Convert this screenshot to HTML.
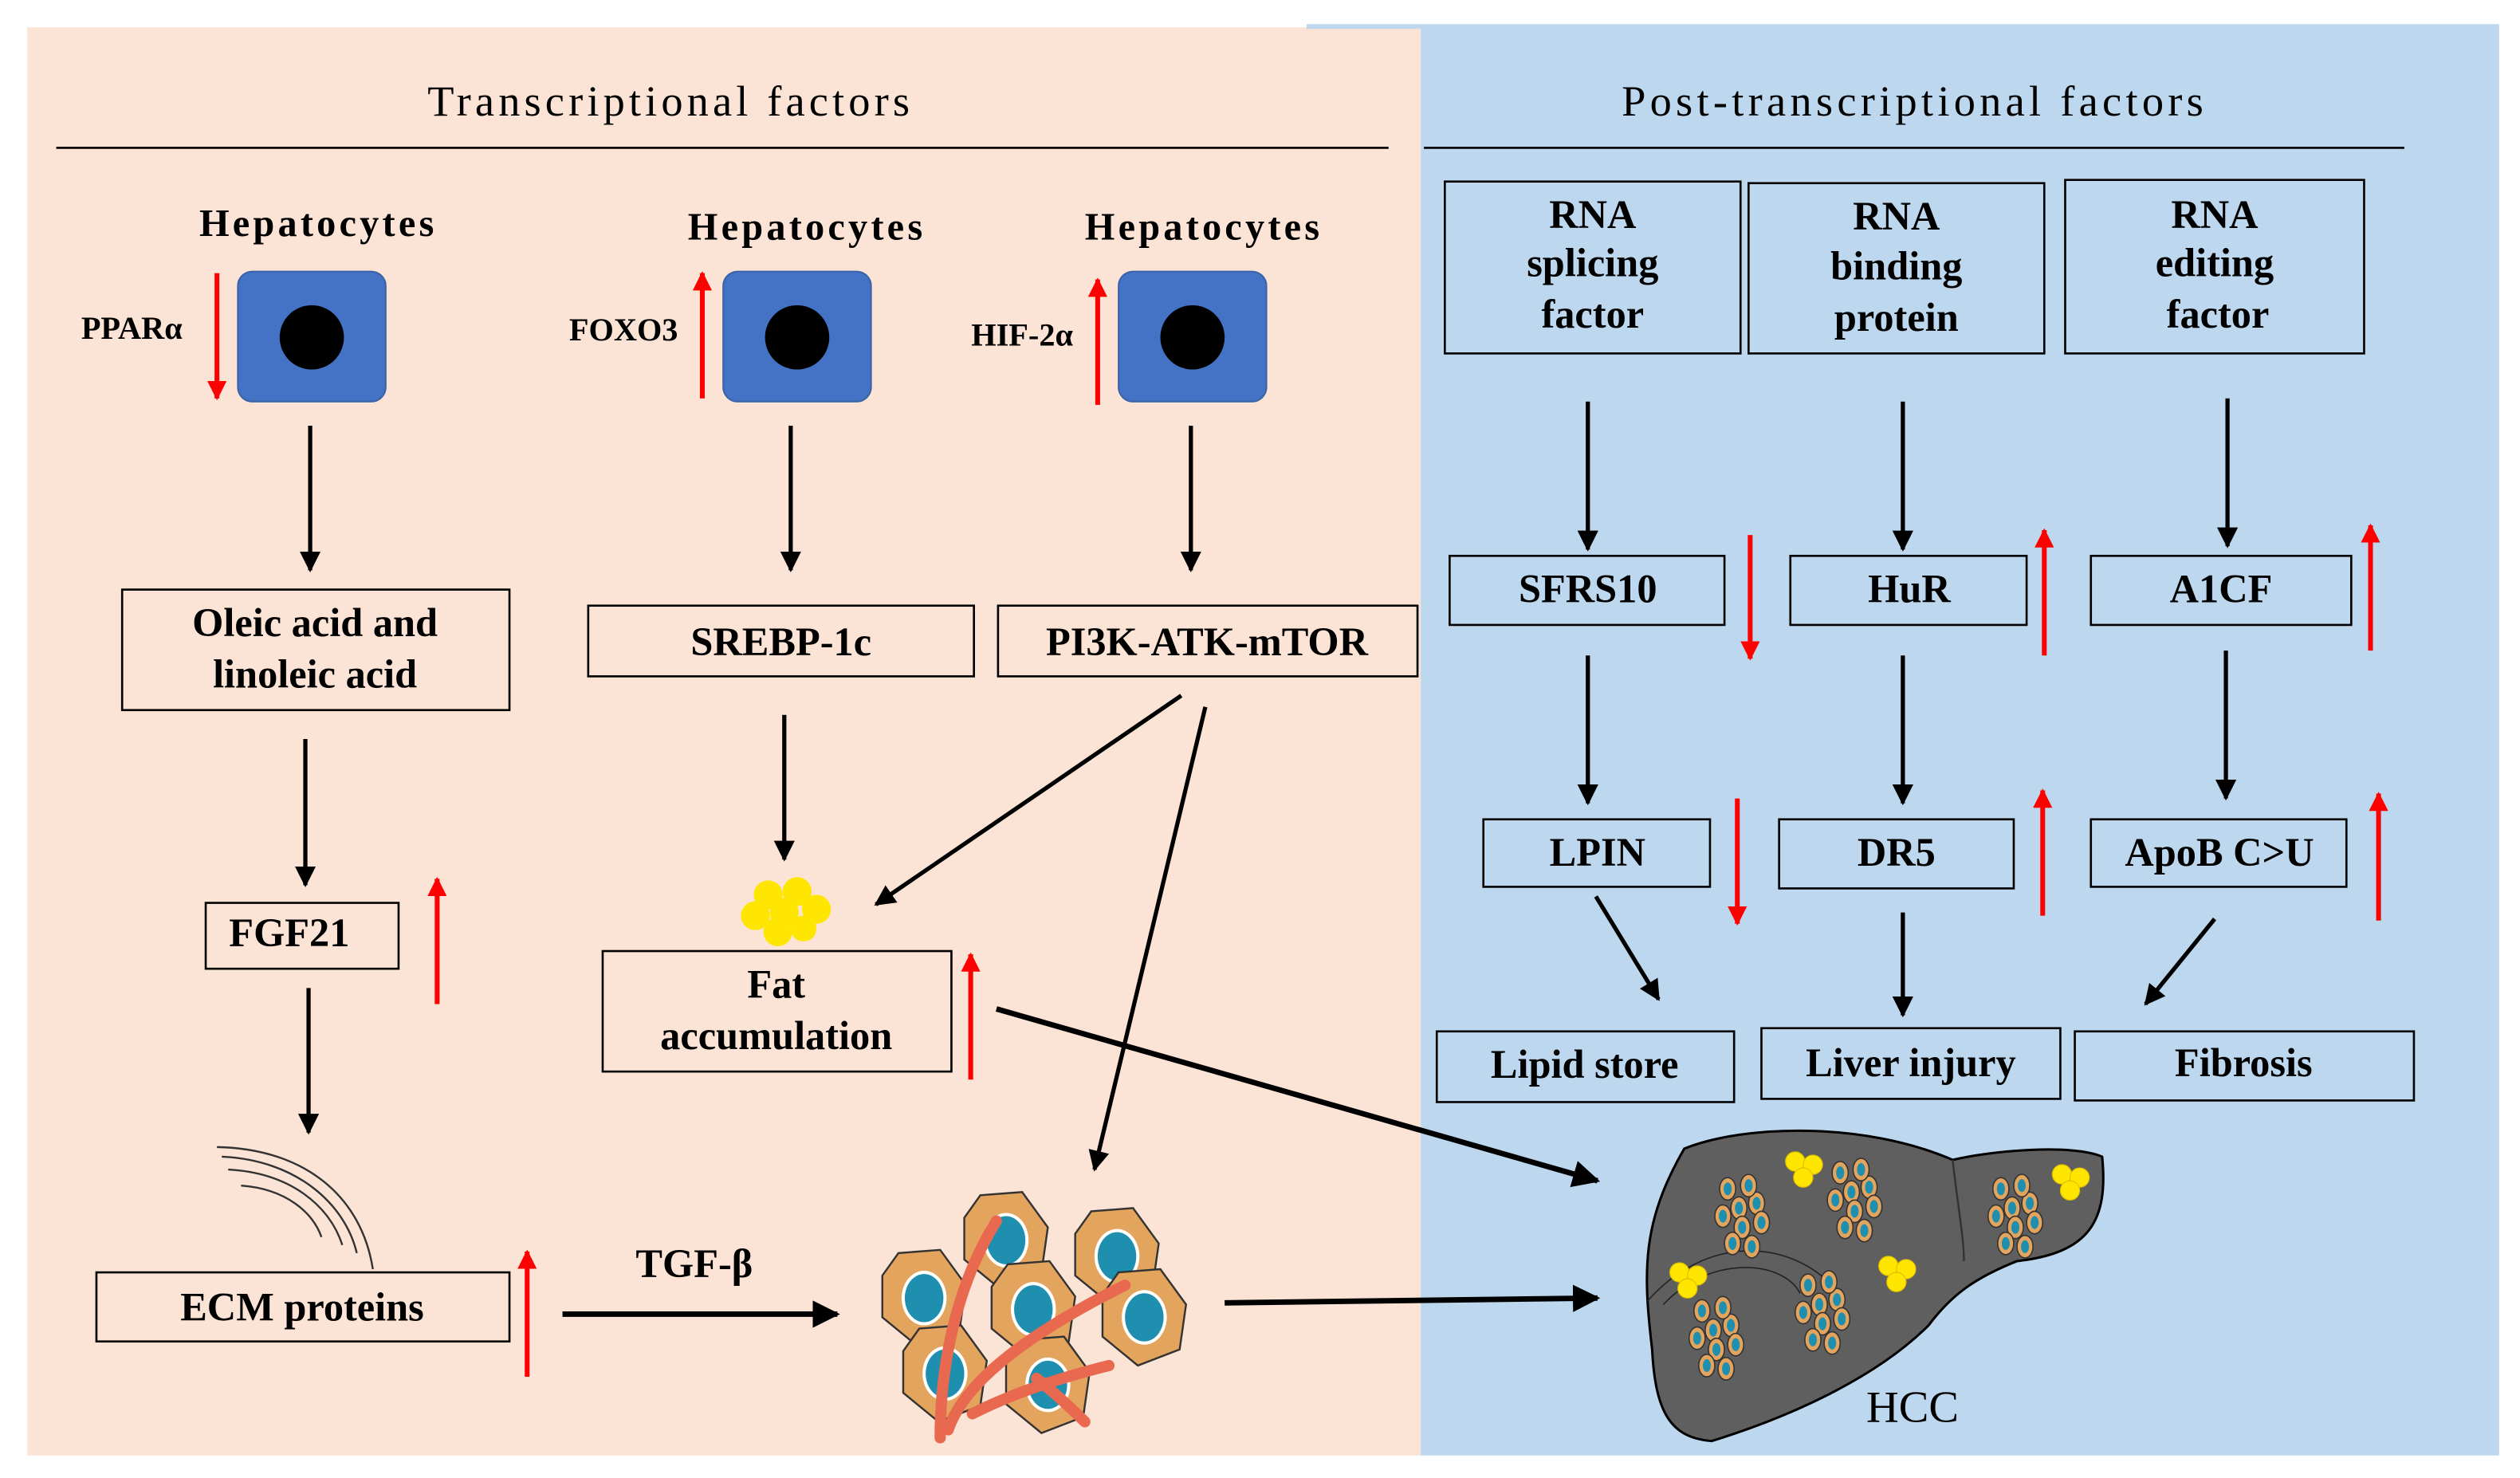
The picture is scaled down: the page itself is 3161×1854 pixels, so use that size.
<!DOCTYPE html>
<html><head><meta charset="utf-8"><style>
html,body{margin:0;padding:0;background:#fff;}
svg{display:block;}
text{font-family:"Liberation Serif",serif;font-weight:bold;fill:#000;}
</style></head><body>
<svg width="3161" height="1854" viewBox="0 0 1568 920" preserveAspectRatio="none" xmlns="http://www.w3.org/2000/svg">
<defs>
<marker id="ah" viewBox="0 0 10 10" refX="9" refY="5" markerWidth="5" markerHeight="5" orient="auto"><path d="M0,0L10,5L0,10z" fill="#000"/></marker>
<marker id="rh" viewBox="0 0 10 10" refX="9" refY="5" markerWidth="4" markerHeight="4" orient="auto"><path d="M0,0L10,5L0,10z" fill="#f00"/></marker>
<g id="cell"><path d="M-16,-28L10,-30L26,-8L22,20L-4,30L-26,12L-26,-14Z" fill="#e3a45e" stroke="#333" stroke-width="1.2"/><ellipse cx="0" cy="0" rx="14" ry="17" fill="#fff"/><ellipse cx="0" cy="0" rx="12" ry="15" fill="#1f8fb0"/></g>
<g id="sc"><ellipse cx="0" cy="0" rx="5" ry="7" fill="#e3a45e" stroke="#333" stroke-width="0.8"/><ellipse cx="0" cy="0" rx="2.5" ry="4" fill="#1f8fb0"/></g>
<g id="clu"><use href="#sc" x="0" y="0"/><use href="#sc" x="11" y="-3"/><use href="#sc" x="-10" y="5"/><use href="#sc" x="2" y="12"/><use href="#sc" x="14" y="9"/><use href="#sc" x="-7" y="-12"/><use href="#sc" x="6" y="-14"/><use href="#sc" x="-4" y="22"/><use href="#sc" x="8" y="24"/></g>
<g id="fat"><circle cx="-5" cy="-5" r="6" fill="#ffe600" stroke="#e0c000" stroke-width="0.6"/><circle cx="6" cy="-3" r="6" fill="#ffe600" stroke="#e0c000" stroke-width="0.6"/><circle cx="0" cy="5" r="6" fill="#ffe600" stroke="#e0c000" stroke-width="0.6"/></g>
</defs>
<rect x="17" y="17" width="867" height="889" fill="#fbe4d5"/>
<rect x="884" y="17" width="671" height="889" fill="#bdd7ee"/>
<rect x="813" y="15" width="742" height="3" fill="#bdd7ee"/>
<text x="416" y="72" font-size="27" text-anchor="middle" style="font-weight:normal" textLength="300">Transcriptional factors</text>
<line x1="35" y1="92" x2="864" y2="92" stroke="#000" stroke-width="1.3"/>
<text x="1190" y="72" font-size="27" text-anchor="middle" style="font-weight:normal" textLength="362">Post-transcriptional factors</text>
<line x1="886" y1="92" x2="1496" y2="92" stroke="#000" stroke-width="1.3"/>
<g font-size="24">
<text x="197" y="147" text-anchor="middle" textLength="146">Hepatocytes</text>
<text x="501" y="149" text-anchor="middle" textLength="146">Hepatocytes</text>
<text x="748" y="149" text-anchor="middle" textLength="146">Hepatocytes</text>
</g>
<g fill="#4472c4" stroke="#3a62a8" stroke-width="1">
<rect x="148" y="169" width="92" height="81" rx="9"/>
<rect x="450" y="169" width="92" height="81" rx="9"/>
<rect x="696" y="169" width="92" height="81" rx="9"/>
</g>
<circle cx="194" cy="210" r="20" fill="#000"/><circle cx="496" cy="210" r="20" fill="#000"/><circle cx="742" cy="210" r="20" fill="#000"/>
<g font-size="20" style="font-weight:normal">
<text x="82" y="211" text-anchor="middle">PPARα</text>
<text x="388" y="212" text-anchor="middle">FOXO3</text>
<text x="636" y="215" text-anchor="middle">HIF-2α</text>
</g>
<g stroke="#f00" stroke-width="3" marker-end="url(#rh)">
<line x1="135" y1="170" x2="135" y2="248"/>
<line x1="437" y1="248" x2="437" y2="170"/>
<line x1="683" y1="252" x2="683" y2="174"/>
<line x1="272" y1="625" x2="272" y2="547"/>
<line x1="328" y1="857" x2="328" y2="779"/>
<line x1="604" y1="672" x2="604" y2="594"/>
<line x1="1089" y1="333" x2="1089" y2="410"/>
<line x1="1272" y1="408" x2="1272" y2="330"/>
<line x1="1475" y1="405" x2="1475" y2="327"/>
<line x1="1081" y1="497" x2="1081" y2="575"/>
<line x1="1271" y1="570" x2="1271" y2="492"/>
<line x1="1480" y1="573" x2="1480" y2="494"/>
</g>
<g stroke="#000" stroke-width="2.6" marker-end="url(#ah)">
<line x1="193" y1="265" x2="193" y2="355"/>
<line x1="492" y1="265" x2="492" y2="355"/>
<line x1="741" y1="265" x2="741" y2="355"/>
<line x1="190" y1="460" x2="190" y2="551"/>
<line x1="192" y1="615" x2="192" y2="705"/>
<line x1="488" y1="445" x2="488" y2="535"/>
<line x1="735" y1="433" x2="545" y2="563"/>
<line x1="750" y1="440" x2="681" y2="728"/>
<line x1="350" y1="818" x2="521" y2="818" stroke-width="3.4"/>
<line x1="620" y1="628" x2="994" y2="735" stroke-width="3.4"/>
<line x1="762" y1="811" x2="994" y2="808" stroke-width="3.4"/>
<line x1="988" y1="250" x2="988" y2="342"/>
<line x1="1184" y1="250" x2="1184" y2="342"/>
<line x1="1386" y1="248" x2="1386" y2="340"/>
<line x1="988" y1="408" x2="988" y2="500"/>
<line x1="1184" y1="408" x2="1184" y2="500"/>
<line x1="1385" y1="405" x2="1385" y2="497"/>
<line x1="993" y1="558" x2="1032" y2="622"/>
<line x1="1184" y1="568" x2="1184" y2="632"/>
<line x1="1378" y1="572" x2="1335" y2="625"/>
</g>
<g fill="none" stroke="#000" stroke-width="1.3">
<rect x="76" y="367" width="241" height="75"/>
<rect x="366" y="377" width="240" height="44"/>
<rect x="621" y="377" width="261" height="44"/>
<rect x="128" y="562" width="120" height="41"/>
<rect x="60" y="792" width="257" height="43"/>
<rect x="375" y="592" width="217" height="75"/>
<rect x="899" y="113" width="184" height="107"/>
<rect x="1088" y="114" width="184" height="106"/>
<rect x="1285" y="112" width="186" height="108"/>
<rect x="902" y="346" width="171" height="43"/>
<rect x="1114" y="346" width="147" height="43"/>
<rect x="1301" y="346" width="162" height="43"/>
<rect x="923" y="510" width="141" height="42"/>
<rect x="1107" y="510" width="146" height="43"/>
<rect x="1301" y="510" width="159" height="42"/>
<rect x="894" y="642" width="185" height="44"/>
<rect x="1096" y="640" width="186" height="44"/>
<rect x="1291" y="642" width="211" height="43"/>
</g>
<g font-size="25" text-anchor="middle">
<text x="196" y="396">Oleic acid and</text><text x="196" y="428">linoleic acid</text>
<text x="486" y="408">SREBP-1c</text>
<text x="751" y="408">PI3K-ATK-mTOR</text>
<text x="180" y="589">FGF21</text>
<text x="188" y="822">ECM proteins</text>
<text x="432" y="795">TGF-β</text>
<text x="483" y="621">Fat</text><text x="483" y="653">accumulation</text>
<text x="991" y="142">RNA</text><text x="991" y="172">splicing</text><text x="991" y="204">factor</text>
<text x="1180" y="143">RNA</text><text x="1180" y="174">binding</text><text x="1180" y="206">protein</text>
<text x="1378" y="142">RNA</text><text x="1378" y="172">editing</text><text x="1380" y="204">factor</text>
<text x="988" y="375">SFRS10</text>
<text x="1188" y="375">HuR</text>
<text x="1382" y="375">A1CF</text>
<text x="994" y="539">LPIN</text>
<text x="1180" y="539">DR5</text>
<text x="1381" y="539">ApoB C&gt;U</text>
<text x="986" y="671">Lipid store</text>
<text x="1189" y="670">Liver injury</text>
<text x="1396" y="670">Fibrosis</text>
<text x="1190" y="885" font-size="28" style="font-weight:normal">HCC</text>
</g>
<g><circle cx="478" cy="557" r="9" fill="#ffe600"/><circle cx="496" cy="555" r="9" fill="#ffe600"/><circle cx="470" cy="570" r="9" fill="#ffe600"/><circle cx="488" cy="568" r="9" fill="#ffe600"/><circle cx="508" cy="566" r="9" fill="#ffe600"/><circle cx="484" cy="580" r="9" fill="#ffe600"/><circle cx="500" cy="578" r="8" fill="#ffe600"/></g>
<g fill="none" stroke="#333" stroke-width="1.2">
<path d="M135,714 C190,715 225,745 232,790"/><path d="M138,720 C185,722 215,750 222,780"/><path d="M142,728 C180,730 205,750 213,775"/><path d="M150,738 C178,740 195,755 200,770"/>
</g>
<g>
<use href="#cell" x="626" y="772"/><use href="#cell" x="695" y="782"/><use href="#cell" x="575" y="808"/><use href="#cell" x="643" y="815"/><use href="#cell" x="712" y="820"/><use href="#cell" x="588" y="855"/><use href="#cell" x="652" y="862"/>
<g fill="none" stroke="#e8694f" stroke-width="7" stroke-linecap="round">
<path d="M620,760 C595,800 585,850 585,895"/>
<path d="M700,800 C640,830 600,860 590,890"/>
<path d="M690,850 C650,860 625,870 605,880"/>
<path d="M645,858 C660,870 670,880 675,885"/>
</g>
</g>
<path d="M1048,715 C1085,700 1160,698 1215,722 C1240,716 1290,712 1308,720 C1312,760 1300,780 1255,785 C1230,795 1215,805 1200,825 C1170,855 1120,880 1065,897 C1040,895 1030,880 1028,840 C1022,790 1022,760 1048,715Z" fill="#5f5f5f" stroke="#000" stroke-width="1.5"/>
<path d="M1215,722 C1218,750 1222,770 1222,785" stroke="#333" fill="none" stroke-width="1.2"/>
<g fill="none" stroke="#222" stroke-width="0.8"><path d="M1025,810 C1060,770 1110,770 1140,800"/><path d="M1035,812 C1065,780 1110,785 1120,805"/></g>
<use href="#clu" x="1082" y="752"/><use href="#clu" x="1152" y="742"/><use href="#clu" x="1252" y="752"/><use href="#clu" x="1132" y="812"/><use href="#clu" x="1066" y="828"/>
<use href="#fat" x="1122" y="728"/><use href="#fat" x="1288" y="736"/><use href="#fat" x="1050" y="797"/><use href="#fat" x="1180" y="793"/>
</svg>
</body></html>
